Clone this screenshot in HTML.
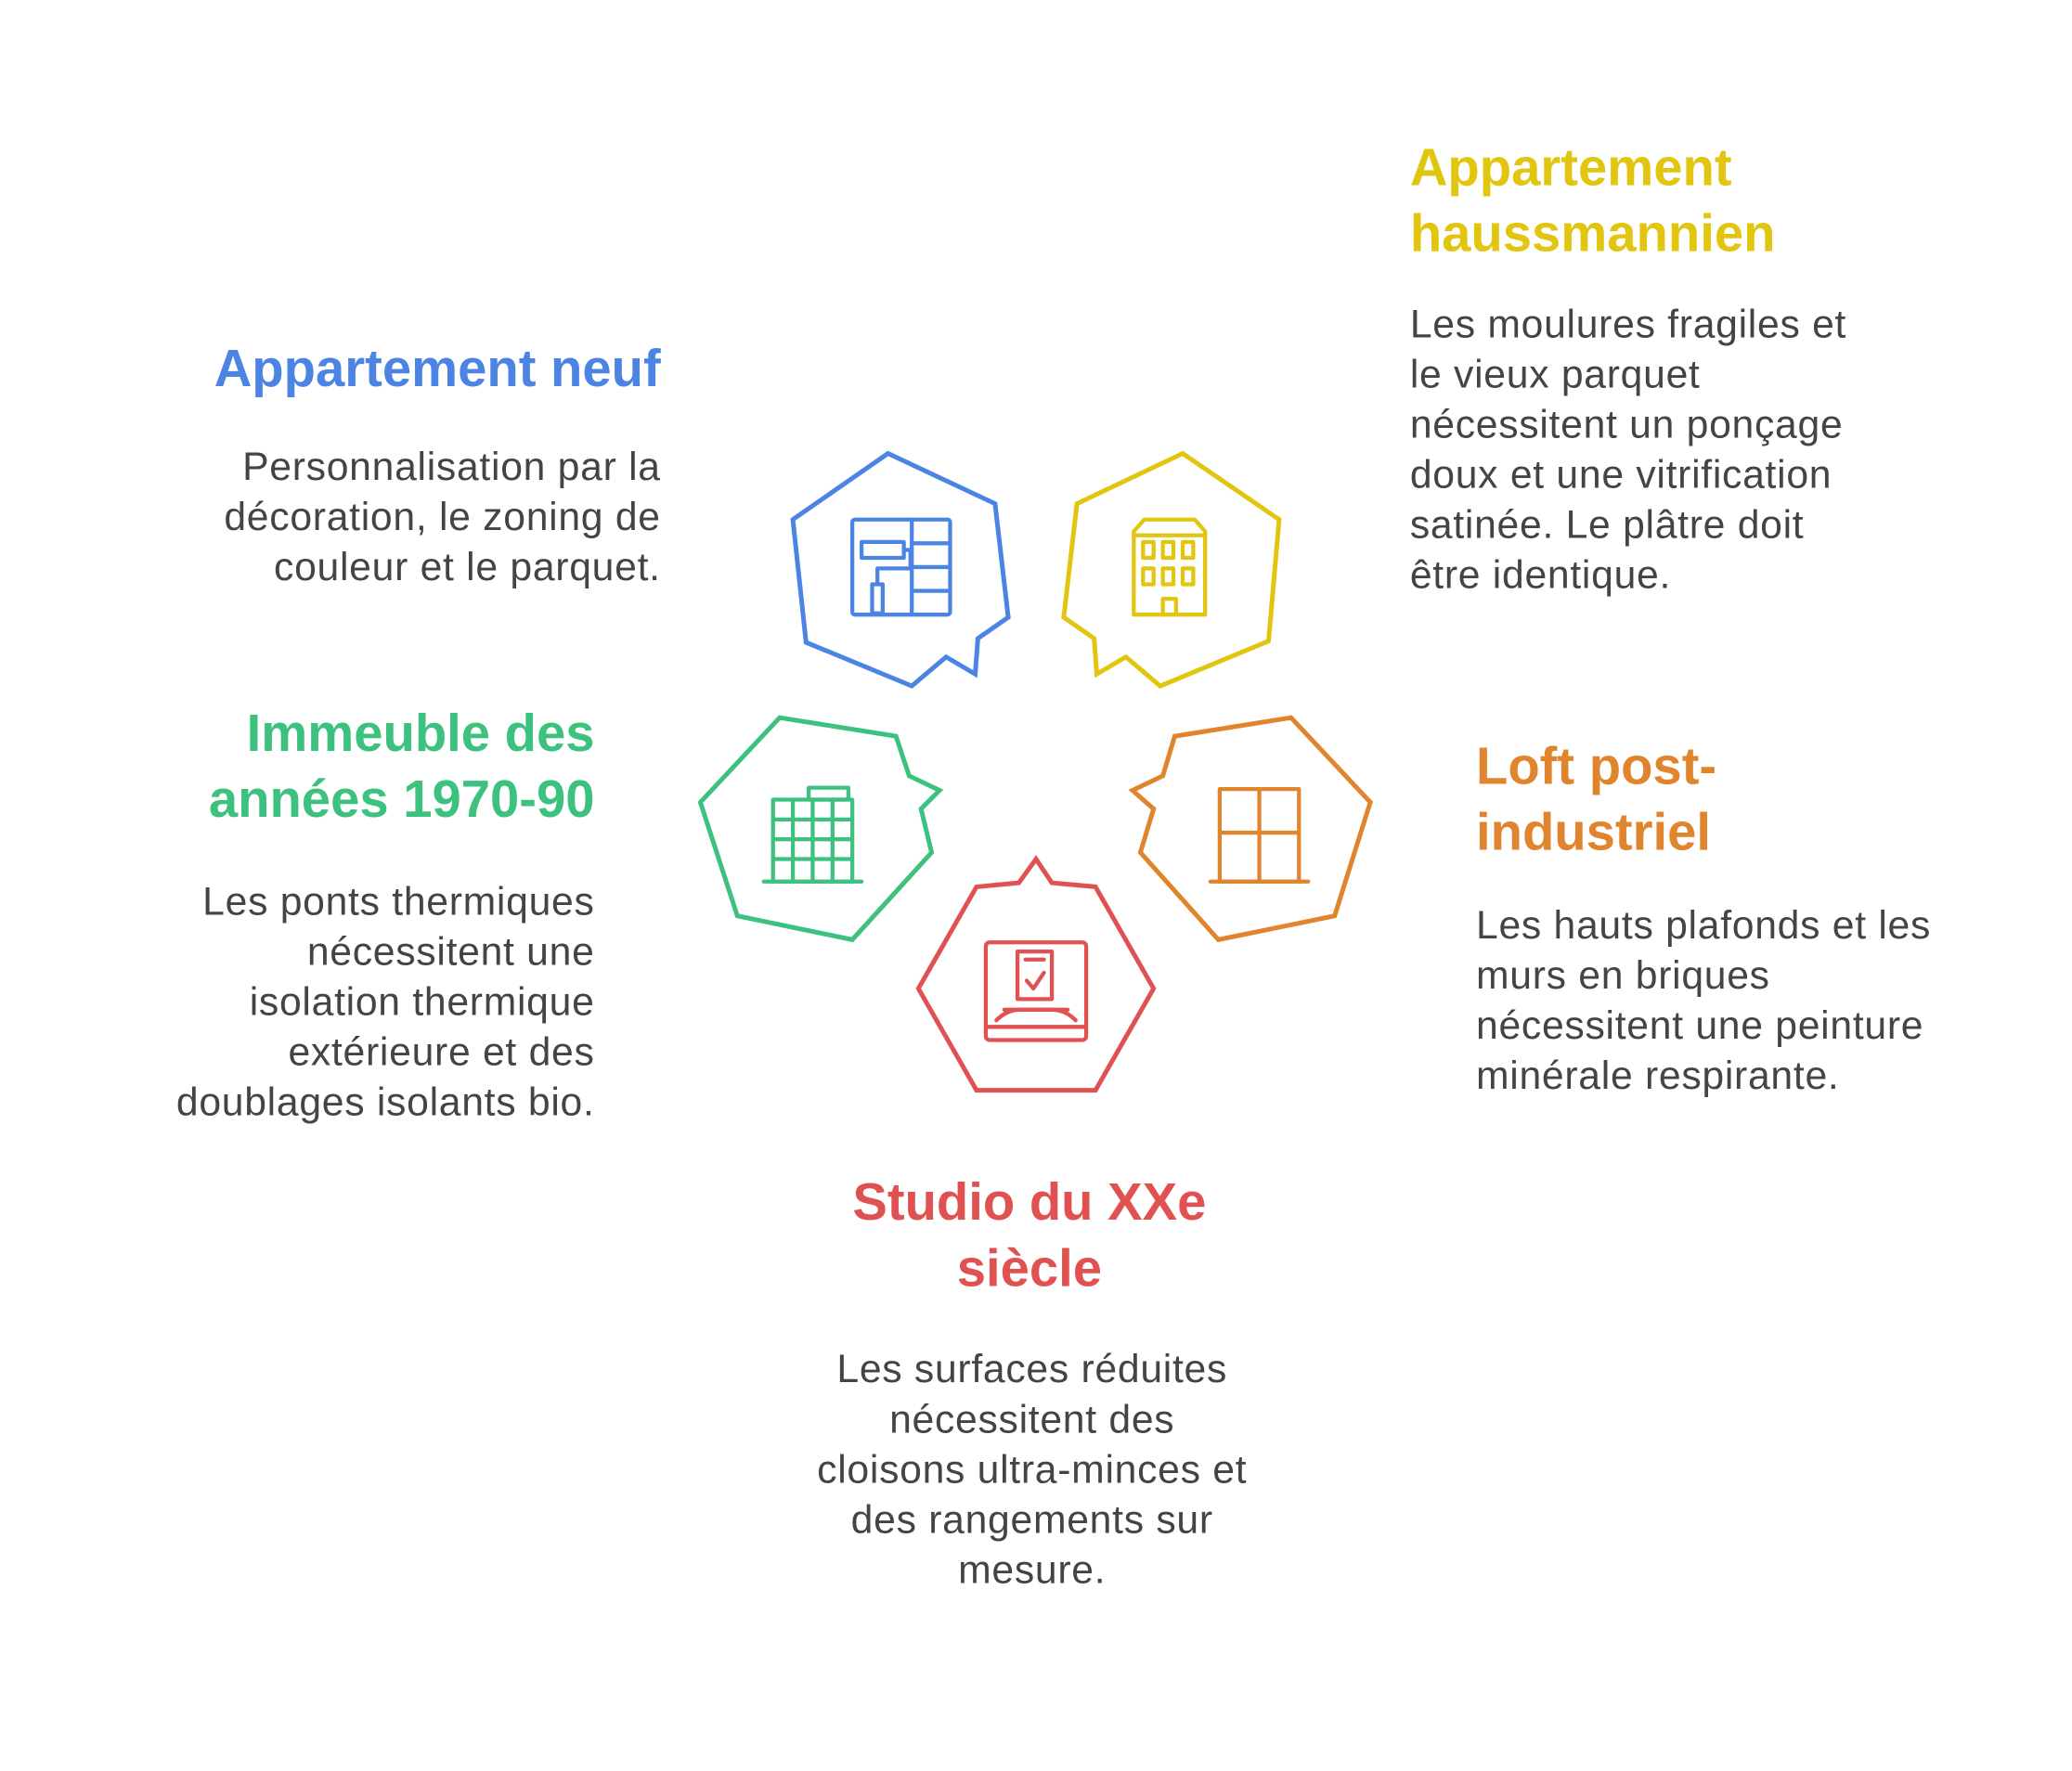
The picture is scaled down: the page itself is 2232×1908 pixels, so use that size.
<!DOCTYPE html>
<html><head><meta charset="utf-8"><style>
html,body{margin:0;padding:0;background:#fff;}
svg{display:block;}
text{font-family:"Liberation Sans",Arial,sans-serif;}
.t{font-weight:bold;font-size:39.5px;}
.b{font-size:30px;fill:#444;letter-spacing:0.5px;}
</style></head><body>
<svg width="2232" height="1908" viewBox="0 0 1568 1340" xmlns="http://www.w3.org/2000/svg">
<rect width="1568" height="1340" fill="#fff"/>
<g fill="none" stroke-width="3.5" stroke-linejoin="miter">
<polygon stroke="#4C84E4" points="672,343 753,381 763,467 740,483 738,510 716,497 690,519 610,486 600,393"/>
<polygon stroke="#E2C50E" points="895,343 968,393 960,485 878,519 852,497 830,510 828,483 805,467 815,381"/>
<polygon stroke="#3CC27E" points="590,543 678,557 688,587 711,598 697,612 705,645 645,711 558,693 530,607"/>
<polygon stroke="#E0842E" points="977,543 1037,607 1010,693 922,711 863,645 873,612 857,598 880,587 889,557"/>
<polygon stroke="#E05252" points="784,650 796,668 829,671 873,748 829,825 739,825 695,748 739,671 771,668"/>
</g>
<g fill="none" stroke-width="3" stroke-linejoin="round" stroke-linecap="round">
<g stroke="#4C84E4">
<rect x="645" y="393" width="74" height="72" rx="2"/>
<line x1="690" y1="393" x2="690" y2="465"/><line x1="690" y1="411" x2="719" y2="411"/><line x1="690" y1="429" x2="719" y2="429"/><line x1="690" y1="447" x2="719" y2="447"/>
<rect x="652" y="410" width="32" height="12" fill="#fff"/><path d="M684 416 h5 v14 h-25 v12"/><rect x="660" y="442" width="8" height="22" fill="#fff"/>
</g>
<g stroke="#E2C50E">
<path d="M858 465 V402 L866 393 H904 L912 402 V465 Z"/><line x1="858" y1="405" x2="912" y2="405"/>
<rect x="865" y="410" width="8" height="12"/><rect x="880" y="410" width="8" height="12"/><rect x="895" y="410" width="8" height="12"/>
<rect x="865" y="430" width="8" height="12"/><rect x="880" y="430" width="8" height="12"/><rect x="895" y="430" width="8" height="12"/>
<path d="M880 465 v-12 h10 v12"/>
</g>
<g stroke="#3CC27E">
<line x1="578" y1="667" x2="652" y2="667"/>
<rect x="585" y="605" width="60" height="62"/><rect x="612" y="596" width="30" height="9"/>
<line x1="585" y1="620" x2="645" y2="620"/><line x1="585" y1="635" x2="645" y2="635"/><line x1="585" y1="650" x2="645" y2="650"/>
<line x1="600" y1="605" x2="600" y2="667"/><line x1="615" y1="605" x2="615" y2="667"/><line x1="630" y1="605" x2="630" y2="667"/>
</g>
<g stroke="#E0842E">
<rect x="923" y="597" width="60" height="70"/><line x1="953" y1="597" x2="953" y2="667"/><line x1="923" y1="630" x2="983" y2="630"/><line x1="916" y1="667" x2="990" y2="667"/>
</g>
<g stroke="#E05252">
<rect x="746" y="713" width="76" height="74" rx="3"/><line x1="746" y1="777" x2="822" y2="777"/>
<rect x="770" y="720" width="26" height="36"/><path d="M777 742 l5 6 l8 -12"/><line x1="776" y1="726" x2="790" y2="726"/>
<path d="M754 772 c6 -6 12 -8 18 -8 h24 c6 0 12 2 18 8"/><line x1="760" y1="764" x2="808" y2="764"/>
</g>
</g>
<text class="t" fill="#4C84E4" x="500" y="292" text-anchor="end">Appartement neuf</text>
<g text-anchor="end"><text class="b" x="500" y="363">Personnalisation par la</text><text class="b" x="500" y="401">décoration, le zoning de</text><text class="b" x="500" y="439">couleur et le parquet.</text></g>

<text class="t" fill="#E2C50E" x="1067" y="140">Appartement</text>
<text class="t" fill="#E2C50E" x="1067" y="190">haussmannien</text>
<text class="b" x="1067" y="255">Les moulures fragiles et</text>
<text class="b" x="1067" y="293">le vieux parquet</text>
<text class="b" x="1067" y="331">nécessitent un ponçage</text>
<text class="b" x="1067" y="369">doux et une vitrification</text>
<text class="b" x="1067" y="407">satinée. Le plâtre doit</text>
<text class="b" x="1067" y="445">être identique.</text>

<g text-anchor="end">
<text class="t" fill="#3CC27E" x="450" y="568">Immeuble des</text>
<text class="t" fill="#3CC27E" x="450" y="618">années 1970-90</text>
<text class="b" x="450" y="692">Les ponts thermiques</text>
<text class="b" x="450" y="730">nécessitent une</text>
<text class="b" x="450" y="768">isolation thermique</text>
<text class="b" x="450" y="806">extérieure et des</text>
<text class="b" x="450" y="844">doublages isolants bio.</text>
</g>

<text class="t" fill="#E0842E" x="1117" y="593">Loft post-</text>
<text class="t" fill="#E0842E" x="1117" y="643">industriel</text>
<text class="b" x="1117" y="710">Les hauts plafonds et les</text>
<text class="b" x="1117" y="748">murs en briques</text>
<text class="b" x="1117" y="786">nécessitent une peinture</text>
<text class="b" x="1117" y="824">minérale respirante.</text>

<g text-anchor="middle">
<text class="t" fill="#E05252" x="779" y="923">Studio du XXe</text>
<text class="t" fill="#E05252" x="779" y="973">siècle</text>
<text class="b" x="781" y="1046">Les surfaces réduites</text>
<text class="b" x="781" y="1084">nécessitent des</text>
<text class="b" x="781" y="1122">cloisons ultra-minces et</text>
<text class="b" x="781" y="1160">des rangements sur</text>
<text class="b" x="781" y="1198">mesure.</text>
</g>
</svg>
</body></html>
